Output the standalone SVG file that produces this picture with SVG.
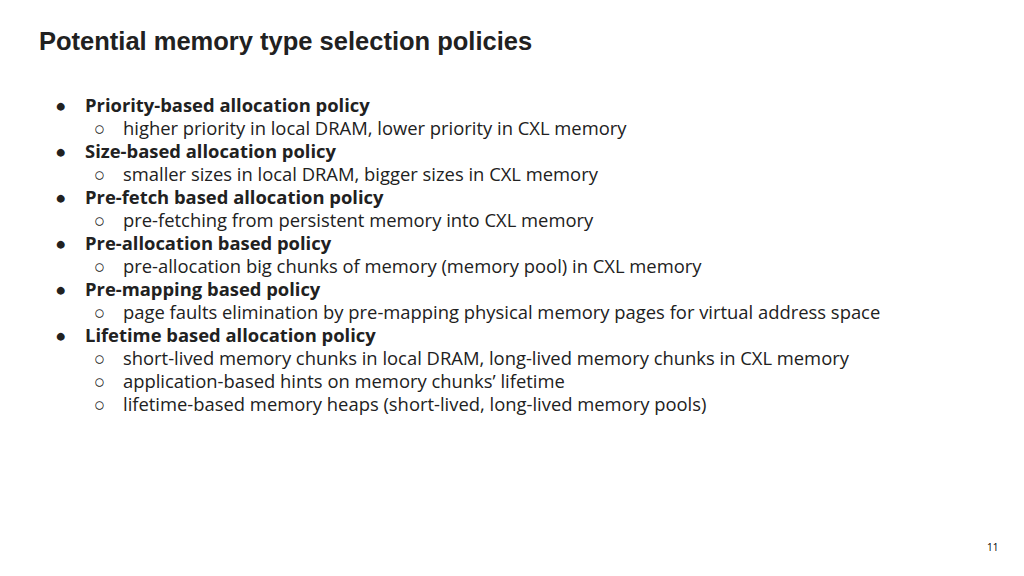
<svg xmlns="http://www.w3.org/2000/svg" width="1024" height="576" viewBox="0 0 1024 576">
<style>
.t{font-family:"Liberation Sans",Arial,sans-serif;font-weight:bold;font-size:25.5px;fill:#212121}
.b{font-family:"Open Sans",sans-serif;font-weight:bold;font-size:18.4px;fill:#212121}
.n{font-family:"Open Sans",sans-serif;font-size:18.4px;fill:#212121}
.p{font-family:"Open Sans",sans-serif;font-size:10px;fill:#000}
</style>
<rect width="1024" height="576" fill="#fff"/>
<text class="t" x="39" y="50">Potential memory type selection policies</text>
<g id="list">
<text class="n" x="55" y="112">●</text><text class="b" x="85" y="112">Priority-based allocation policy</text>
<text class="n" x="94" y="135">○</text><text class="n" x="123" y="135">higher priority in local DRAM, lower priority in CXL memory</text>
<text class="n" x="55" y="158">●</text><text class="b" x="85" y="158">Size-based allocation policy</text>
<text class="n" x="94" y="181">○</text><text class="n" x="123" y="181">smaller sizes in local DRAM, bigger sizes in CXL memory</text>
<text class="n" x="55" y="204">●</text><text class="b" x="85" y="204">Pre-fetch based allocation policy</text>
<text class="n" x="94" y="227">○</text><text class="n" x="123" y="227">pre-fetching from persistent memory into CXL memory</text>
<text class="n" x="55" y="250">●</text><text class="b" x="85" y="250">Pre-allocation based policy</text>
<text class="n" x="94" y="273">○</text><text class="n" x="123" y="273">pre-allocation big chunks of memory (memory pool) in CXL memory</text>
<text class="n" x="55" y="296">●</text><text class="b" x="85" y="296">Pre-mapping based policy</text>
<text class="n" x="94" y="319">○</text><text class="n" x="123" y="319">page faults elimination by pre-mapping physical memory pages for virtual address space</text>
<text class="n" x="55" y="342">●</text><text class="b" x="85" y="342">Lifetime based allocation policy</text>
<text class="n" x="94" y="365">○</text><text class="n" x="123" y="365">short-lived memory chunks in local DRAM, long-lived memory chunks in CXL memory</text>
<text class="n" x="94" y="388">○</text><text class="n" x="123" y="388">application-based hints on memory chunks’ lifetime</text>
<text class="n" x="94" y="411">○</text><text class="n" x="123" y="411">lifetime-based memory heaps (short-lived, long-lived memory pools)</text>
</g>
<text class="p" x="987" y="551">11</text>
</svg>
